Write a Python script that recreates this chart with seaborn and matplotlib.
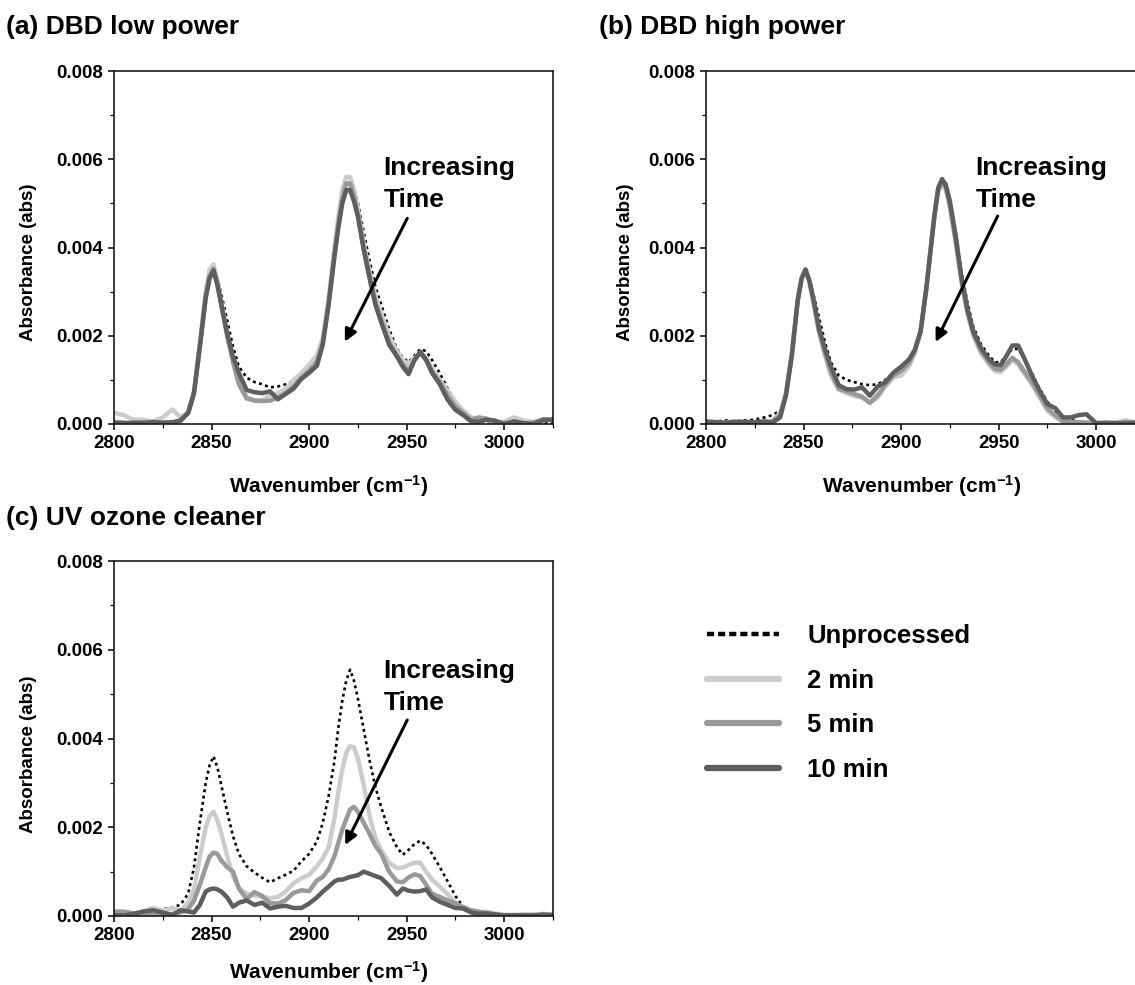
import numpy as np
import pandas as pd
import matplotlib
matplotlib.use("Agg")
import matplotlib.pyplot as plt
from matplotlib.lines import Line2D
from matplotlib.ticker import MultipleLocator, StrMethodFormatter
import seaborn as sns

# ---------------- data (absorbance in units of 1e-4) ----------------
WAVENUMBER = [2800, 2805, 2810, 2815, 2820, 2825, 2830, 2834, 2838, 2841,
              2844, 2847, 2849, 2851, 2853, 2855, 2858, 2861, 2864, 2868,
              2872, 2876, 2880, 2884, 2888, 2892, 2896, 2900, 2904, 2907,
              2910, 2913, 2915, 2917, 2919, 2921, 2923, 2925, 2928, 2931,
              2934, 2937, 2941, 2945, 2948, 2951, 2954, 2957, 2960, 2963,
              2967, 2971, 2975, 2979, 2983, 2987, 2991, 2995, 3000, 3005,
              3010, 3015, 3020, 3025]

SERIES = ["Unprocessed", "2 min", "5 min", "10 min"]
PANEL_TITLES = ["(a) DBD low power", "(b) DBD high power", "(c) UV ozone cleaner"]

# (a) DBD low power
A_UNPROC = [0.0, 0.0, 0.2, 0.3, 0.2, 0.4, 0.5, 1.0, 3.0, 8.0,
            18.5, 29.5, 34.0, 35.5, 33.0, 29.5, 23.5, 17.5, 13.0, 10.5,
            9.5, 9.0, 8.3, 8.5, 9.0, 9.8, 11.0, 12.5, 14.5, 19.0,
            28.0, 39.0, 46.0, 52.0, 55.0, 55.5, 53.5, 50.0, 43.5, 37.0,
            31.0, 27.0, 21.5, 17.0, 15.0, 14.0, 15.5, 17.0, 16.5, 14.5,
            11.5, 8.0, 5.0, 3.0, 1.5, 0.8, 0.5, 0.3, 0.2, 0.2,
            0.3, 0.2, 0.3, 0.3]
A_2MIN = [2.5, 2.0, 1.0, 1.0, 0.6, 1.5, 3.3, 1.5, 2.8, 7.5,
          18.5, 30.0, 35.0, 36.2, 32.5, 27.5, 20.5, 14.5, 9.5, 6.0,
          5.4, 5.3, 6.5, 7.0, 8.0, 10.0, 11.5, 13.5, 15.5, 19.5,
          28.5, 40.0, 47.0, 53.0, 56.0, 56.0, 53.0, 48.5, 41.0, 34.5,
          29.0, 25.0, 20.0, 16.5, 14.5, 13.5, 15.0, 16.0, 15.0, 12.5,
          10.0, 7.5, 5.0, 3.0, 1.5, 1.2, 1.0, 0.4, 0.5, 1.5,
          0.8, 0.5, 0.8, 1.2]
A_5MIN = [0.5, 0.3, 0.0, 0.2, 0.5, 0.2, 0.3, 0.6, 2.5, 7.0,
          17.5, 29.0, 33.5, 35.2, 31.8, 27.0, 20.0, 14.0, 9.0, 5.8,
          5.3, 5.2, 5.3, 6.0, 7.0, 8.5, 10.5, 12.0, 14.0, 18.5,
          27.5, 38.5, 45.5, 51.0, 54.5, 54.5, 51.5, 47.5, 40.0, 33.5,
          27.5, 23.5, 18.5, 15.5, 13.5, 12.0, 14.5, 16.0, 14.5, 12.0,
          9.5, 6.5, 4.0, 2.5, 1.0, 1.5, 1.2, 0.3, 0.2, 0.3,
          0.1, 0.3, 1.1, 0.8]
A_10MIN = [0.2, 0.2, 0.3, 0.3, 0.4, 0.3, 0.4, 0.8, 2.5, 7.0,
           17.5, 28.5, 33.0, 34.8, 31.5, 27.0, 20.5, 15.3, 11.5, 7.7,
           7.2, 7.0, 7.4, 5.6, 6.8, 8.0, 10.2, 11.6, 13.2, 18.0,
           27.0, 38.0, 44.5, 50.0, 53.0, 53.0, 50.5, 47.0, 39.5, 33.0,
           27.0, 23.0, 18.0, 15.3, 13.0, 11.3, 14.5, 16.4, 14.5, 11.6,
           9.0, 5.5, 3.2, 2.0, 0.6, 0.5, 1.0, 0.8, 0.0, 0.6,
           0.2, 0.0, 0.9, 1.0]

# (b) DBD high power
B_UNPROC = [0.5, 0.6, 0.8, 0.6, 0.8, 1.0, 1.5, 2.0, 3.0, 7.0,
            16.0, 28.0, 33.0, 35.0, 33.0, 29.5, 24.0, 18.5, 14.0, 11.0,
            10.0, 9.5, 9.0, 8.8, 9.0, 10.0, 11.5, 12.8, 14.5, 17.0,
            21.5, 31.5, 39.5, 47.5, 53.5, 55.5, 54.5, 51.0, 43.5, 34.5,
            27.5, 22.0, 18.0, 15.5, 14.0, 14.0, 15.5, 17.0, 17.0, 15.0,
            11.5, 8.0, 5.0, 3.0, 1.5, 1.0, 0.5, 0.3, 0.2, 0.2,
            0.2, 0.2, 0.2, 0.2]
B_2MIN = [0.8, 0.5, 0.3, 0.3, 0.2, 0.3, 0.2, 0.8, 2.5, 7.0,
          16.0, 28.0, 33.0, 34.8, 32.0, 27.5, 20.5, 15.5, 11.0, 7.8,
          7.0, 6.3, 6.0, 4.8, 6.0, 8.5, 10.5, 11.0, 13.0, 16.0,
          21.0, 31.0, 39.0, 46.5, 52.5, 54.5, 53.0, 49.0, 41.0, 32.0,
          25.0, 20.0, 16.0, 13.5, 12.0, 11.7, 13.0, 14.5, 13.5, 11.5,
          9.0, 6.0, 3.0, 1.5, 0.5, 0.4, 0.3, 0.3, 0.2, 0.1,
          0.3, 0.8, 0.4, 0.8]
B_5MIN = [0.3, 0.3, 0.2, 0.3, 0.4, 0.3, 0.4, 0.5, 2.0, 6.8,
          15.8, 28.0, 33.0, 35.0, 32.3, 28.0, 21.0, 16.0, 11.8, 8.0,
          7.4, 6.8, 6.2, 4.8, 6.5, 9.0, 11.0, 12.0, 13.8, 16.5,
          21.0, 31.0, 39.0, 47.0, 53.0, 55.0, 53.5, 49.5, 41.5, 32.5,
          25.5, 20.5, 16.5, 14.0, 12.5, 12.3, 13.5, 15.0, 14.0, 12.0,
          9.5, 6.5, 3.5, 2.0, 0.6, 0.5, 0.4, 0.3, 0.2, 0.2,
          0.2, 0.5, 0.3, 0.5]
B_10MIN = [0.5, 0.4, 0.3, 0.5, 0.5, 0.4, 0.6, 0.3, 1.5, 6.5,
           15.5, 28.0, 33.0, 35.0, 32.5, 28.5, 21.5, 17.0, 13.0, 8.8,
           7.9, 7.8, 8.3, 6.4, 8.5, 9.5, 11.6, 13.0, 14.6, 16.8,
           21.0, 31.0, 39.0, 47.0, 53.5, 55.5, 54.0, 50.5, 42.5, 33.0,
           26.0, 21.0, 17.2, 14.7, 13.5, 13.3, 15.4, 17.8, 17.8, 15.0,
           11.0, 7.5, 4.5, 3.6, 1.5, 1.5, 2.0, 2.2, 0.2, 0.3,
           0.2, 0.1, 0.3, 0.4]

# (c) UV ozone cleaner
C_UNPROC = [0.5, 0.5, 0.6, 1.0, 1.2, 1.5, 2.0, 2.5, 5.0, 11.0,
            21.0, 30.0, 34.0, 36.0, 33.5, 29.5, 23.5, 18.0, 14.0, 11.2,
            9.8, 8.6, 7.6, 8.5, 9.3, 10.2, 12.3, 14.0, 16.8, 21.0,
            27.0, 35.0, 42.5, 48.5, 53.0, 55.5, 53.0, 49.0, 42.0, 35.0,
            29.0, 24.5, 19.0, 15.5, 13.8, 14.9, 16.2, 17.0, 16.0, 14.0,
            11.0, 7.8, 4.5, 2.0, 1.0, 0.6, 0.5, 0.4, 0.3, 0.3,
            0.3, 0.2, 0.3, 0.3]
C_2MIN = [1.0, 0.5, 0.5, 1.0, 1.8, 1.2, 1.8, 1.0, 3.0, 6.0,
          13.4, 20.0, 22.5, 23.5, 21.5, 18.6, 13.5, 9.0, 6.3, 5.0,
          4.6, 4.3, 4.0, 4.3, 5.5, 7.4, 8.5, 9.3, 11.2, 13.0,
          15.5, 22.0, 28.0, 33.0, 36.7, 38.3, 38.0, 35.5, 29.5, 22.5,
          17.5, 14.8, 12.0, 10.8, 10.9, 11.5, 12.0, 12.0, 10.0, 8.2,
          6.6, 4.9, 2.9, 1.6, 1.0, 0.8, 1.0, 0.6, 0.3, 0.2,
          0.4, 0.3, 0.5, 0.3]
C_5MIN = [1.0, 1.0, 0.6, 0.4, 0.5, 0.3, 0.5, 0.8, 1.5, 3.5,
          7.0, 11.0, 13.4, 14.3, 14.0, 12.5, 11.0, 10.0, 6.2, 3.8,
          5.4, 4.5, 2.9, 2.8, 3.6, 5.2, 5.8, 5.6, 8.0, 8.8,
          10.5, 13.5, 16.5, 19.5, 21.8, 24.0, 24.6, 23.5, 21.0, 18.5,
          15.8, 14.0, 10.0, 7.8, 7.6, 8.7, 9.4, 9.0, 7.0, 5.0,
          4.3, 3.5, 2.9, 2.0, 1.3, 1.0, 0.6, 0.3, 0.1, 0.1,
          0.1, 0.2, 0.3, 0.2]
C_10MIN = [0.2, 0.1, 0.5, 1.0, 1.3, 0.8, 0.2, 1.3, 1.0, 0.8,
           2.5, 5.5, 6.0, 6.2, 6.0, 5.5, 4.2, 2.1, 3.0, 3.5,
           2.5, 3.0, 1.7, 2.1, 2.3, 1.8, 1.8, 2.8, 4.2, 5.5,
           6.6, 7.8, 8.2, 8.2, 8.5, 8.8, 9.0, 9.2, 10.0, 9.5,
           9.0, 8.5, 6.8, 4.8, 6.2, 5.7, 5.5, 5.6, 6.0, 4.2,
           3.2, 2.5, 1.8, 1.7, 0.8, 0.5, 0.6, 0.4, 0.1, 0.2,
           0.1, 0.1, 0.3, 0.2]

PANEL_DATA = [
    [A_UNPROC, A_2MIN, A_5MIN, A_10MIN],
    [B_UNPROC, B_2MIN, B_5MIN, B_10MIN],
    [C_UNPROC, C_2MIN, C_5MIN, C_10MIN],
]
UNIT = 1e-4

Y_TICKS = [0.000, 0.002, 0.004, 0.006, 0.008]
X_TICKS = [2800, 2850, 2900, 2950, 3000]

# ---------------- style ----------------
sns.set_theme(style="ticks")
FONT = ["Liberation Sans", "DejaVu Sans"]
plt.rcParams["font.family"] = FONT
plt.rcParams["font.weight"] = "bold"
plt.rcParams["axes.labelweight"] = "bold"
plt.rcParams["mathtext.default"] = "regular"
plt.rcParams["text.color"] = "black"
plt.rcParams["axes.labelcolor"] = "black"
plt.rcParams["xtick.color"] = "black"
plt.rcParams["ytick.color"] = "black"
plt.rcParams["xtick.labelcolor"] = "black"
plt.rcParams["ytick.labelcolor"] = "black"

COLORS = {"Unprocessed": "#000000", "2 min": "#cccccc", "5 min": "#999999", "10 min": "#5e5e5e"}
STYLES = {"Unprocessed": (0, (1.1, 1.3)), "2 min": "-", "5 min": "-", "10 min": "-"}
WIDTHS = {"Unprocessed": 1.9, "2 min": 3.2, "5 min": 3.2, "10 min": 3.2}

fig = plt.figure(figsize=(11.35, 9.85), dpi=100)
W, H = 1135.0, 985.0

def fx(px):
    return px / W

def fy(py):
    return 1 - py / H

axes_px = [  # left, top, right, bottom in pixels
    (114, 71, 553, 424),
    (706, 71, 1145, 424),
    (114, 561, 553, 916),
]
axes = []
for (l, t, r, b) in axes_px:
    ax = fig.add_axes([fx(l), fy(b), (r - l) / W, (b - t) / H])
    axes.append(ax)

label_pos = [
    dict(xl=(0.49, -0.175), yl=(-0.194, 0.459)),
    dict(xl=(0.492, -0.175), yl=(-0.183, 0.459)),
    dict(xl=(0.489, -0.158), yl=(-0.194, 0.456)),
]
text_pos = [
    dict(t1=0.005643, t2=0.004925, tail=(2950.3, 0.004662), head=(2918.3, 0.001865)),
    dict(t1=0.005643, t2=0.004925, tail=(2949.5, 0.004714), head=(2917.7, 0.001858)),
    dict(t1=0.005357, t2=0.004642, tail=(2950.3, 0.004417), head=(2918.5, 0.001600)),
]

for i, ax in enumerate(axes):
    for name, vals in zip(SERIES, PANEL_DATA[i]):
        df = pd.DataFrame({"wavenumber": WAVENUMBER,
                           "absorbance": np.asarray(vals) * UNIT})
        sns.lineplot(data=df, x="wavenumber", y="absorbance", ax=ax,
                     color=COLORS[name], linestyle=STYLES[name],
                     linewidth=WIDTHS[name], sort=False, legend=False,
                     solid_capstyle="round")
    ax.set_xlim(2800, 3025)
    ax.set_ylim(0, 0.008)
    ax.set_xticks(X_TICKS)
    ax.set_yticks(Y_TICKS)
    ax.xaxis.set_minor_locator(MultipleLocator(25))
    ax.yaxis.set_minor_locator(MultipleLocator(0.001))
    ax.yaxis.set_major_formatter(StrMethodFormatter("{x:.3f}"))
    ax.tick_params(which="major", direction="out", length=4.5, width=1.1,
                   labelsize=13.5, pad=3.5, color="black", labelcolor="black")
    ax.tick_params(which="minor", direction="out", length=2.6, width=0.9,
                   color="black")
    for lab in ax.get_xticklabels() + ax.get_yticklabels():
        lab.set_fontweight("bold")
    for sp in ax.spines.values():
        sp.set_visible(True)
        sp.set_linewidth(1.2)
        sp.set_color("#1a1a1a")
    ax.set_xlabel("Wavenumber (cm$^{\\mathregular{-1}}$)", fontsize=15,
                  fontweight="bold", va="center", color="black")
    ax.set_ylabel("Absorbance (abs)", fontsize=13.5, fontweight="bold",
                  va="center", color="black")
    ax.xaxis.set_label_coords(*label_pos[i]["xl"])
    ax.yaxis.set_label_coords(*label_pos[i]["yl"])

    tp = text_pos[i]
    ax.text(2938, tp["t1"], "Increasing", fontsize=19, fontweight="bold",
            ha="left", va="baseline", color="black")
    ax.text(2938, tp["t2"], "Time", fontsize=19, fontweight="bold",
            ha="left", va="baseline", color="black")
    ax.annotate("", xy=tp["head"], xytext=tp["tail"],
                arrowprops=dict(arrowstyle="-|>", lw=2.2, color="black",
                                mutation_scale=18, shrinkA=0, shrinkB=0))

# panel titles
fig.text(fx(6), fy(34), PANEL_TITLES[0], fontsize=19, fontweight="bold",
         ha="left", va="baseline", color="black")
fig.text(fx(599), fy(34), PANEL_TITLES[1], fontsize=19, fontweight="bold",
         ha="left", va="baseline", color="black")
fig.text(fx(6), fy(525), PANEL_TITLES[2], fontsize=19, fontweight="bold",
         ha="left", va="baseline", color="black")

# legend
handles = [
    Line2D([], [], color=COLORS["Unprocessed"], lw=3.2, linestyle=(0, (1.6, 0.9))),
    Line2D([], [], color=COLORS["2 min"], lw=4.5),
    Line2D([], [], color=COLORS["5 min"], lw=4.5),
    Line2D([], [], color=COLORS["10 min"], lw=4.5),
]
leg = fig.legend(handles, SERIES, loc="upper left",
                 bbox_to_anchor=(fx(707), fy(624)), frameon=False,
                 borderpad=0, borderaxespad=0, handlelength=2.8,
                 handletextpad=1.1, labelspacing=0.8,
                 prop=dict(family=FONT, weight="bold", size=18.5))
for t in leg.get_texts():
    t.set_color("black")

fig.savefig("out.png", dpi=100)
